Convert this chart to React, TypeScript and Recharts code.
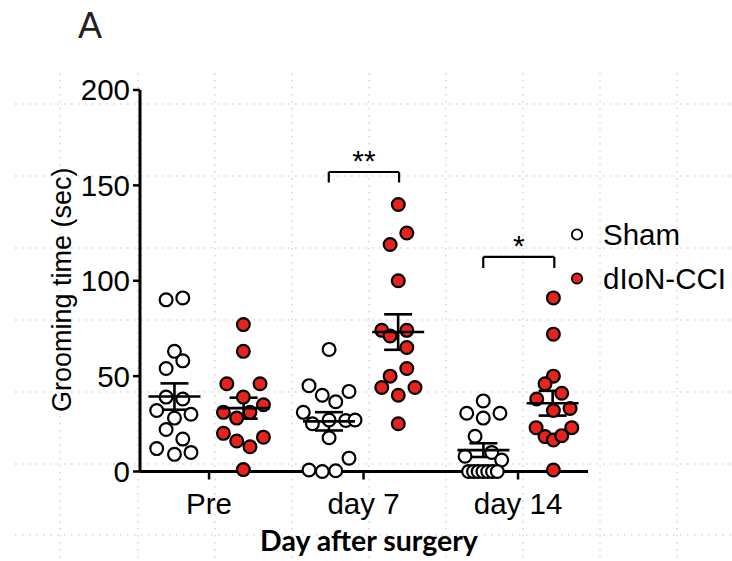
import React from 'react';
import { ScatterChart, Scatter, XAxis, YAxis, ErrorBar, ReferenceLine, Legend } from 'recharts';

// ---------- data ----------
const categories = ['Pre', 'day 7', 'day 14'];
const categoryPositions = [1, 2, 3];
const yTicks = [0, 50, 100, 150, 200];
const yTitle = 'Grooming time (sec)';
const xTitle = 'Day after surgery';

// Sham: x = jittered category position, y = grooming time (sec)
const shamX = [
  0.722, 0.830, 0.776, 0.830, 0.722, 0.722, 0.830, 0.661, 0.883, 0.776, 0.722, 0.830, 0.661, 0.776, 0.883,
  1.777, 1.647, 1.733, 1.820, 1.906, 1.610, 1.669, 1.777, 1.885, 1.945, 1.777, 1.906, 1.647, 1.733, 1.820,
  2.775, 2.668, 2.883, 2.775, 2.722, 2.657, 2.830, 2.894, 2.680, 2.712, 2.742, 2.773, 2.804, 2.835, 2.866,
];
const shamY = [
  90, 91, 63, 58, 54, 39, 38, 32, 30, 28, 22, 17, 12, 9, 10,
  64, 45, 40, 36.6, 42, 31, 25, 27, 26.7, 27, 17.7, 7, 0.8, 0, 0.4,
  37, 30.5, 30.5, 28, 18.5, 8, 10, 6, 0, 0, 0, 0, 0, 0, 0,
];

// dIoN-CCI
const cciX = [
  1.222, 1.222, 1.115, 1.330, 1.222, 1.352, 1.093, 1.265, 1.179, 1.093, 1.179, 1.352, 1.265, 1.222,
  2.225, 2.280, 2.172, 2.225, 2.118, 2.172, 2.280, 2.280, 2.280, 2.172, 2.118, 2.333, 2.225, 2.225,
  3.229, 3.229, 3.229, 3.175, 3.283, 3.121, 3.229, 3.337, 3.117, 3.348, 3.175, 3.229, 3.283, 3.229,
];
const cciY = [
  77, 63, 46, 46, 39, 35, 31, 31, 28, 20, 16, 18, 13, 1,
  140, 125, 119, 100, 74, 71, 74, 65, 54, 50, 44, 44, 40, 25,
  91, 72, 50, 46, 41, 38, 32, 33, 23, 23, 18.3, 16.5, 18.8, 0.8,
];

// mean ± SEM per day
const shamMean = [39.3, 26.3, 11.2];
const shamSem = [6.9, 4.8, 3.6];
const cciMean = [33.2, 73.1, 35.8];
const cciSem = [5.5, 9.3, 6.5];

// significance brackets
const bracketLeft = [1.775, 2.775];
const bracketRight = [2.23, 3.235];
const bracketY = [157, 112.5];
const bracketDrop = [5.5, 5.8];
const bracketLabel = ['**', '*'];

// ---------- styles ----------
const RED = '#e8231d';
const FONT = '"Liberation Sans", Arial, Helvetica, sans-serif';
const GROUP_OFFSET = 0.224;
const seriesStyle: Record<string, string> = { Sham: '#ffffff', 'dIoN-CCI': RED };

const toPoints = (xs: number[], ys: number[]) => xs.map((x, i) => ({ x, y: ys[i] }));
const shamPoints = toPoints(shamX, shamY);
const cciPoints = toPoints(cciX, cciY);
const shamStats = categoryPositions.map((c, i) => ({ x: c - GROUP_OFFSET, y: shamMean[i], sem: shamSem[i] }));
const cciStats = categoryPositions.map((c, i) => ({ x: c + GROUP_OFFSET, y: cciMean[i], sem: cciSem[i] }));
const starData = bracketLabel.map((l, i) => ({ x: (bracketLeft[i] + bracketRight[i]) / 2, y: bracketY[i], label: l }));

const makeDot = (fill: string) => (props: any) => (
  <circle cx={props.cx} cy={props.cy} r={6.4} fill={fill} stroke="#000" strokeWidth={2.2} />
);

const MeanLine = (props: any) => (
  <line x1={props.cx - 26} x2={props.cx + 26} y1={props.cy} y2={props.cy} stroke="#000" strokeWidth={2.6} />
);

const StarLabel = (props: any) => (
  <text x={props.cx} y={props.cy - 1} textAnchor="middle" fontSize={30} fontFamily={FONT} fill="#000">
    {props.payload.label}
  </text>
);

const YTitle = (props: any) => {
  const vb = props.viewBox || { x: 0, y: 90, width: 140, height: 381.5 };
  const cx = vb.x + 61;
  const cy = vb.y + vb.height / 2 + 9;
  return (
    <text
      x={cx}
      y={cy}
      dy="0.36em"
      transform={`rotate(-90, ${cx}, ${cy})`}
      textAnchor="middle"
      fontSize={27}
      fontFamily={FONT}
      fill="#000"
    >
      {yTitle}
    </text>
  );
};

const renderLegend = (props: any) => {
  const items = (props.payload || []).filter((p: any) => p.type !== 'none' && seriesStyle[p.value] !== undefined);
  return (
    <svg width={172} height={95}>
      {items.map((p: any, i: number) => (
        <g key={p.value}>
          <circle cx={17} cy={24.5 + i * 44} r={5.2} fill={seriesStyle[p.value]} stroke="#000" strokeWidth={1.8} />
          <text x={43} y={35 + i * 44} fontSize={29.5} fontFamily={FONT} fill="#000">
            {p.value}
          </text>
        </g>
      ))}
    </svg>
  );
};

const gridXs = [60, 138, 215, 292, 369, 446, 523, 600, 677];
const gridYs = [104, 176, 248, 320, 392, 464, 535];

export default function App() {
  return (
    <div style={{ position: 'absolute', left: 0, top: 0, width: 732, height: 561, background: '#fff', fontFamily: FONT }}>
      <svg width={732} height={561} style={{ position: 'absolute', left: 0, top: 0 }}>
        {gridXs.map((gx) => (
          <line key={'v' + gx} x1={gx} x2={gx} y1={73} y2={561} stroke="#c4c4c4" strokeWidth={1.1} strokeDasharray="1.5 5.5" />
        ))}
        {gridYs.map((gy) => (
          <line key={'h' + gy} x1={15} x2={732} y1={gy} y2={gy} stroke="#c4c4c4" strokeWidth={1.1} strokeDasharray="1.5 5.5" />
        ))}
        <text x={78} y={38} fontSize={36} fontFamily={FONT} fill="#222">A</text>
      </svg>
      <div style={{ position: 'absolute', left: 0, top: 0 }}>
        <ScatterChart width={732} height={561} margin={{ top: 90, right: 144, bottom: 49.5, left: 0 }}>
          <XAxis
            type="number"
            dataKey="x"
            domain={[0.553, 3.453]}
            ticks={categoryPositions}
            tickFormatter={(v: number) => categories[categoryPositions.indexOf(v)] ?? ''}
            allowDataOverflow
            height={40}
            axisLine={{ stroke: '#000', strokeWidth: 3 }}
            tickLine={{ stroke: '#000', strokeWidth: 2.5 }}
            tickSize={8}
            tickMargin={14}
            tick={{ fill: '#000', fontSize: 29.5, fontFamily: FONT }}
            label={{
              value: xTitle,
              position: 'bottom',
              offset: 19,
              dx: 5,
              style: { fontFamily: 'Lato, "Open Sans", sans-serif', fontWeight: 700, fontSize: 28.5, fill: '#000' },
            }}
          />
          <YAxis
            type="number"
            dataKey="y"
            domain={[0, 200]}
            ticks={yTicks}
            width={140}
            axisLine={{ stroke: '#000', strokeWidth: 3 }}
            tickLine={{ stroke: '#000', strokeWidth: 2.5 }}
            tickSize={7}
            tickMargin={3}
            tick={{ fill: '#000', fontSize: 29.5, fontFamily: FONT }}
            label={YTitle}
          />
          <Scatter name="Sham" data={shamPoints} shape={makeDot('#ffffff')} fill="#ffffff" isAnimationActive={false} />
          <Scatter name="dIoN-CCI" data={cciPoints} shape={makeDot(RED)} fill={RED} isAnimationActive={false} />
          <Scatter name="shamMean" data={shamStats} shape={MeanLine} legendType="none" isAnimationActive={false}>
            <ErrorBar dataKey="sem" direction="y" width={14} stroke="#000" strokeWidth={2.6} />
          </Scatter>
          <Scatter name="cciMean" data={cciStats} shape={MeanLine} legendType="none" isAnimationActive={false}>
            <ErrorBar dataKey="sem" direction="y" width={14} stroke="#000" strokeWidth={2.6} />
          </Scatter>
          {bracketLabel.map((_, i) => (
            <ReferenceLine
              key={'b' + i}
              segment={[{ x: bracketLeft[i], y: bracketY[i] }, { x: bracketRight[i], y: bracketY[i] }]}
              stroke="#000"
              strokeWidth={2.2}
              ifOverflow="visible"
            />
          ))}
          {bracketLabel.map((_, i) => (
            <ReferenceLine
              key={'l' + i}
              segment={[{ x: bracketLeft[i], y: bracketY[i] }, { x: bracketLeft[i], y: bracketY[i] - bracketDrop[i] }]}
              stroke="#000"
              strokeWidth={2.2}
              ifOverflow="visible"
            />
          ))}
          {bracketLabel.map((_, i) => (
            <ReferenceLine
              key={'r' + i}
              segment={[{ x: bracketRight[i], y: bracketY[i] }, { x: bracketRight[i], y: bracketY[i] - bracketDrop[i] }]}
              stroke="#000"
              strokeWidth={2.2}
              ifOverflow="visible"
            />
          ))}
          <Scatter name="stars" data={starData} shape={StarLabel} legendType="none" isAnimationActive={false} />
          <Legend
            layout="vertical"
            align="center"
            verticalAlign="middle"
            content={renderLegend}
            wrapperStyle={{ position: 'absolute', left: 560, top: 210, width: 172, height: 95 }}
          />
        </ScatterChart>
      </div>
    </div>
  );
}
